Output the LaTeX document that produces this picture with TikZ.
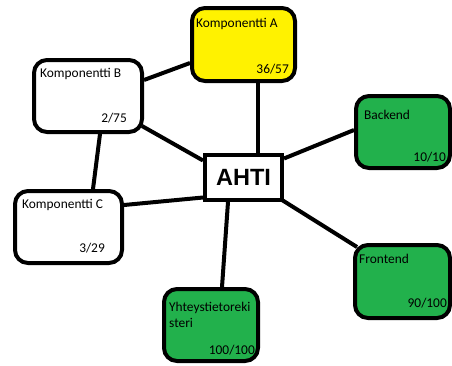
\documentclass[tikz,border=0pt]{standalone}
\usepackage{fontspec}
\setmainfont{Carlito}
\newfontfamily\ahtifont{Liberation Sans}
\usetikzlibrary{calc,backgrounds}
\definecolor{paintyellow}{HTML}{FFF200}
\definecolor{paintgreen}{HTML}{22B14C}
\begin{document}
\begin{tikzpicture}[x=1pt,y=-1pt,
  comp/.style={draw=black,line width=4pt,rounded corners=13pt,inner sep=0pt,
     minimum width=#1},
  lbl/.style={inner sep=0pt,font=\fontsize{13.4}{16}\selectfont,anchor=base west},
  cnt/.style={inner sep=0pt,font=\fontsize{13.4}{16}\selectfont,anchor=base east},
  conn/.style={line width=4pt,draw=black}]
\useasboundingbox (0,0) rectangle (452,365);
% boxes
\node[comp=103pt,minimum height=73pt,fill=paintyellow] (a) at (243.5,44.5) {};
\node[comp=108pt,minimum height=72pt,fill=white] (b) at (88,96) {};
\node[comp=107pt,minimum height=72pt,fill=white] (c) at (68.5,227) {};
\node[draw=black,line width=4pt,fill=white,minimum width=77pt,minimum height=45pt,inner sep=0pt,
      font=\ahtifont\bfseries\fontsize{23.5}{26}\selectfont] (ahti) at (243.5,177.5) {AHTI};
\node[comp=94pt,minimum height=72pt,fill=paintgreen] (be) at (403,132) {};
\node[comp=95pt,minimum height=73pt,fill=paintgreen] (fe) at (402.5,281.5) {};
\node[comp=94pt,minimum height=72pt,fill=paintgreen] (yt) at (211,325) {};
% labels
\node[lbl] (aT) at (196,27) {Komponentti A};
\node[cnt] (aN) at (289,73) {36/57};
\node[lbl] (bT) at (40,77) {Komponentti B};
\node[cnt] (bN) at (127,122) {2/75};
\node[lbl] (cT) at (22,208) {Komponentti C};
\node[cnt] (cN) at (105,252) {3/29};
\node[lbl] (beT) at (364,119) {Backend};
\node[cnt] (beN) at (446,161) {10/10};
\node[lbl] (feT) at (359,263) {Frontend};
\node[cnt] (feN) at (447,307) {90/100};
\node[lbl] (ytT) at (169,311) {Yhteystietoreki};
\node[lbl] (ytT2) at (169,327) {steri};
\node[cnt] (ytN) at (255,354) {100/100};
% connectors
\begin{pgfonlayer}{background}
\draw[conn] ($(a.south)+(14.5,0)$) -- ($(ahti.north)+(14.5,0)$);
\draw[conn] ($(b.east)+(0,-16)$) -- ($(a.west)+(0,18.5)$);
\draw[conn] ($(b.east)+(-2,30)$) -- ($(ahti.west)+(0,-17)$);
\draw[conn] ($(b.south)+(12,0)$) -- ($(c.north)+(24.5,0)$);
\draw[conn] ($(c.east)+(0,-22)$) -- ($(ahti.west)+(0,20)$);
\draw[conn] ($(ahti.east)+(0,-19)$) -- ($(be.west)+(0,-2)$);
\draw[conn] ($(ahti.south east)+(-2,-2)$) -- ($(fe.north west)+(4,4)$);
\draw[conn] ($(ahti.south)+(-15.5,0)$) -- ($(yt.north)+(11,0)$);
\end{pgfonlayer}
\end{tikzpicture}
\end{document}
